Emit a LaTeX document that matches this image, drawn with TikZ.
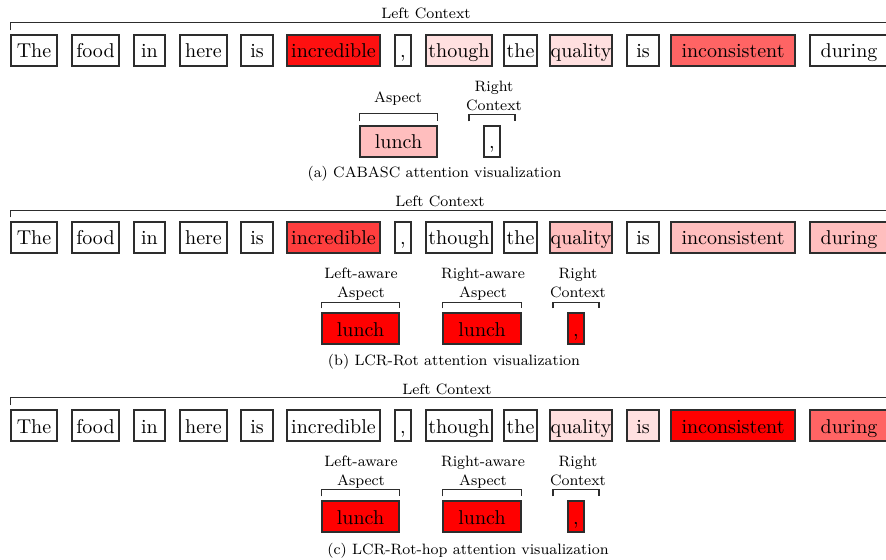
\documentclass[tikz,border=0pt]{standalone}
\usetikzlibrary{calc}
\definecolor{attlow}{RGB}{255,224,224}
\definecolor{attmid}{RGB}{255,190,190}
\definecolor{atthigh}{RGB}{255,100,100}
\definecolor{attvhigh}{RGB}{255,62,62}
\definecolor{attmax}{RGB}{255,16,16}
\definecolor{attfull}{RGB}{255,0,0}
\definecolor{edge}{RGB}{45,45,45}
\tikzset{
  tok/.style={draw=edge,line width=0.6pt,text height=11.5pt,text depth=4pt,inner xsep=0pt,inner ysep=0pt,font=\normalsize},
  lbl/.style={inner sep=0pt,text depth=0pt,align=center,anchor=south,font=\fontsize{7.5}{9.5}\selectfont},
  bar/.style={draw=edge,line width=0.6pt}
}
\begin{document}
\begin{tikzpicture}[x=0.5pt,y=-0.5pt]
	\clip (0,0) rectangle (886,560);
	% the sentence, once per panel
	\foreach \w/\cx/\ww/\ca/\cb/\cc [count=\i] in {The/34/46/white/white/white,
		food/95.5/47/white/white/white, in/149.5/31/white/white/white,
		here/203.5/47/white/white/white, is/257/32/white/white/white,
		incredible/333.5/93/attmax/attvhigh/white, {,}/403/16/white/white/white,
		though/459/66/attlow/white/white, the/520.5/33/white/white/white,
		quality/581/62/attlow/attmid/attlow, is/643/32/white/white/attlow,
		inconsistent/733/124/atthigh/attmid/attfull, during/849/78/white/attmid/atthigh}{
		\node[tok,minimum width=\ww*0.5pt,fill=\ca] (a\i) at (\cx,50.5) {\w};
		\node[tok,minimum width=\ww*0.5pt,fill=\cb] (b\i) at (\cx,237.5) {\w};
		\node[tok,minimum width=\ww*0.5pt,fill=\cc] (c\i) at (\cx,425.5) {\w};
	}
	% (a) CABASC
	\node[lbl] (aLeft) at (426,19) {Left Context};
	\draw[bar] ($(a1.north west)+(0,-4)$) -- ++(0,-8) -- ++(900,0);
	\node[tok,minimum width=38.5pt,fill=attmid] (aAsp) at (398.5,141.5) {lunch};
	\node[tok,minimum width=8pt,fill=white] (aRc) at (492,141.5) {,};
	\draw[bar] ($(aAsp.north west)+(0,-4)$) -- ++(0,-8) -| ($(aAsp.north east)+(0,-4)$);
	\draw[bar] ($(aRc.north)+(-23,-4)$) -- ++(0,-7) -| ($(aRc.north)+(23,-4)$);
	\node[lbl] (aAspL) at (398,103) {Aspect};
	\node[lbl] (aRcL) at (494,111) {Right\\Context};
	\node[lbl] (aCap) at (434.5,178) {(a) CABASC attention visualization};
	% (b) LCR-Rot
	\node[lbl] (bLeft) at (440,207) {Left Context};
	\draw[bar] ($(b1.north west)+(0,-4)$) -- ++(0,-7) -- ++(900,0);
	\node[tok,minimum width=38.5pt,fill=attfull] (bLa) at (360.5,328.5) {lunch};
	\node[tok,minimum width=39pt,fill=attfull] (bRa) at (482,328.5) {lunch};
	\node[tok,minimum width=8pt,fill=attfull] (bRc) at (576,328.5) {,};
	\draw[bar] ($(bLa.north west)+(0,-4)$) -- ++(0,-6) -| ($(bLa.north east)+(0,-4)$);
	\draw[bar] ($(bRa.north west)+(0,-4)$) -- ++(0,-6) -| ($(bRa.north east)+(0,-4)$);
	\draw[bar] ($(bRc.north)+(-23,-4)$) -- ++(0,-6) -| ($(bRc.north)+(23,-4)$);
	\node[lbl] (bLaL) at (361,298) {Left-aware\\Aspect};
	\node[lbl] (bRaL) at (483,298) {Right-aware\\Aspect};
	\node[lbl] (bRcL) at (578,298) {Right\\Context};
	\node[lbl] (bCap) at (454,366) {(b) LCR-Rot attention visualization};
	% (c) LCR-Rot-hop
	\node[lbl] (cLeft) at (447,395) {Left Context};
	\draw[bar] ($(c1.north west)+(0,-4)$) -- ++(0,-8) -- ++(900,0);
	\node[tok,minimum width=38.5pt,fill=attfull] (cLa) at (360.5,516.5) {lunch};
	\node[tok,minimum width=39pt,fill=attfull] (cRa) at (482,516.5) {lunch};
	\node[tok,minimum width=8pt,fill=attfull] (cRc) at (576,516.5) {,};
	\draw[bar] ($(cLa.north west)+(0,-4)$) -- ++(0,-7) -| ($(cLa.north east)+(0,-4)$);
	\draw[bar] ($(cRa.north west)+(0,-4)$) -- ++(0,-7) -| ($(cRa.north east)+(0,-4)$);
	\draw[bar] ($(cRc.north)+(-23,-4)$) -- ++(0,-7) -| ($(cRc.north)+(23,-4)$);
	\node[lbl] (cLaL) at (361,486) {Left-aware\\Aspect};
	\node[lbl] (cRaL) at (483,486) {Right-aware\\Aspect};
	\node[lbl] (cRcL) at (578,486) {Right\\Context};
	\node[lbl] (cCap) at (468,555) {(c) LCR-Rot-hop attention visualization};
\end{tikzpicture}
\end{document}
